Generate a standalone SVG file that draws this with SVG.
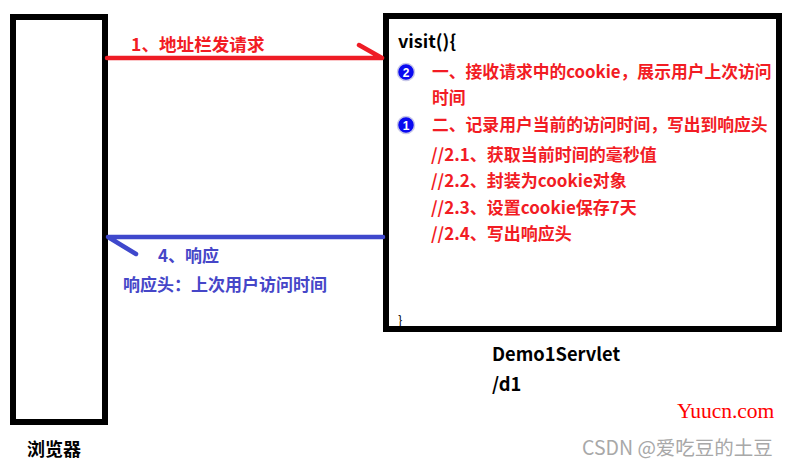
<svg xmlns="http://www.w3.org/2000/svg" width="787" height="466" viewBox="0 0 787 466">
<style>
.box{fill:#fff;stroke:#000;stroke-width:6}
.t{font-family:"Noto Sans CJK SC","Noto Sans",sans-serif;font-weight:bold;font-size:17px}
.red{fill:#f21c24}
.blue{fill:#4646c8}
.blk{fill:#000}
.num{font-family:"Liberation Sans",sans-serif;font-weight:bold;font-size:12px;fill:#fff;text-anchor:middle}
.dot{fill:#0a0af0;stroke:#c8c8e8;stroke-width:1.5}
</style>
<rect width="787" height="466" fill="#fff"/>
<g id="browser">
<rect class="box" x="13" y="17" width="92" height="405"/>
<text class="t blk" x="27" y="456" style="font-size:18px">浏览器</text>
</g>
<g id="servlet">
<rect class="box" x="386" y="16" width="393" height="313"/>
<text class="t blk" x="398" y="48" style="font-size:18px">visit(){</text>
<circle class="dot" cx="406" cy="72" r="8.5"/><text class="num" x="406" y="76.5">2</text>
<text class="t red" x="432" y="78" style="font-size:16.8px">一、接收请求中的cookie，展示用户上次访问</text>
<text class="t red" x="432" y="104" style="font-size:16.8px">时间</text>
<circle class="dot" cx="406" cy="125" r="8.5"/><text class="num" x="406" y="129.5">1</text>
<text class="t red" x="432" y="131" style="font-size:16.8px">二、记录用户当前的访问时间，写出到响应头</text>
<text class="t red" x="431" y="161">//2.1、获取当前时间的毫秒值</text>
<text class="t red" x="431" y="187">//2.2、封装为cookie对象</text>
<text class="t red" x="431" y="214">//2.3、设置cookie保存7天</text>
<text class="t red" x="431" y="240">//2.4、写出响应头</text>
<text class="t blk" x="398" y="325" style="font-size:13px;font-weight:normal">}</text>
<text class="t blk" x="492" y="361" style="font-size:18.3px">Demo1Servlet</text>
<text class="t blk" x="492" y="391" style="font-size:18.3px">/d1</text>
</g>
<g id="connectors">
<g id="request">
<path d="M107 58 H382 M359 45 L382 58" fill="none" stroke="#ee1c25" stroke-width="4.5" stroke-linecap="round"/>
<text class="t red" x="131" y="51" style="font-size:17.6px">1、地址栏发请求</text>
</g>
<g id="response">
<path d="M383 237 H108 L136 254" fill="none" stroke="#3f48cc" stroke-width="4.5" stroke-linecap="round" stroke-linejoin="round"/>
<text class="t blue" x="158" y="262">4、响应</text>
<text class="t blue" x="123" y="291">响应头：上次用户访问时间</text>
</g>
</g>
<text x="677" y="418" style="font-family:'Liberation Serif',serif;font-size:21.5px;fill:#ff0000">Yuucn.com</text>
<text x="582" y="455" style="font-family:'Noto Sans CJK SC','Noto Sans',sans-serif;font-size:19.5px;fill:#a8a8a8">CSDN @爱吃豆的土豆</text>
</svg>
